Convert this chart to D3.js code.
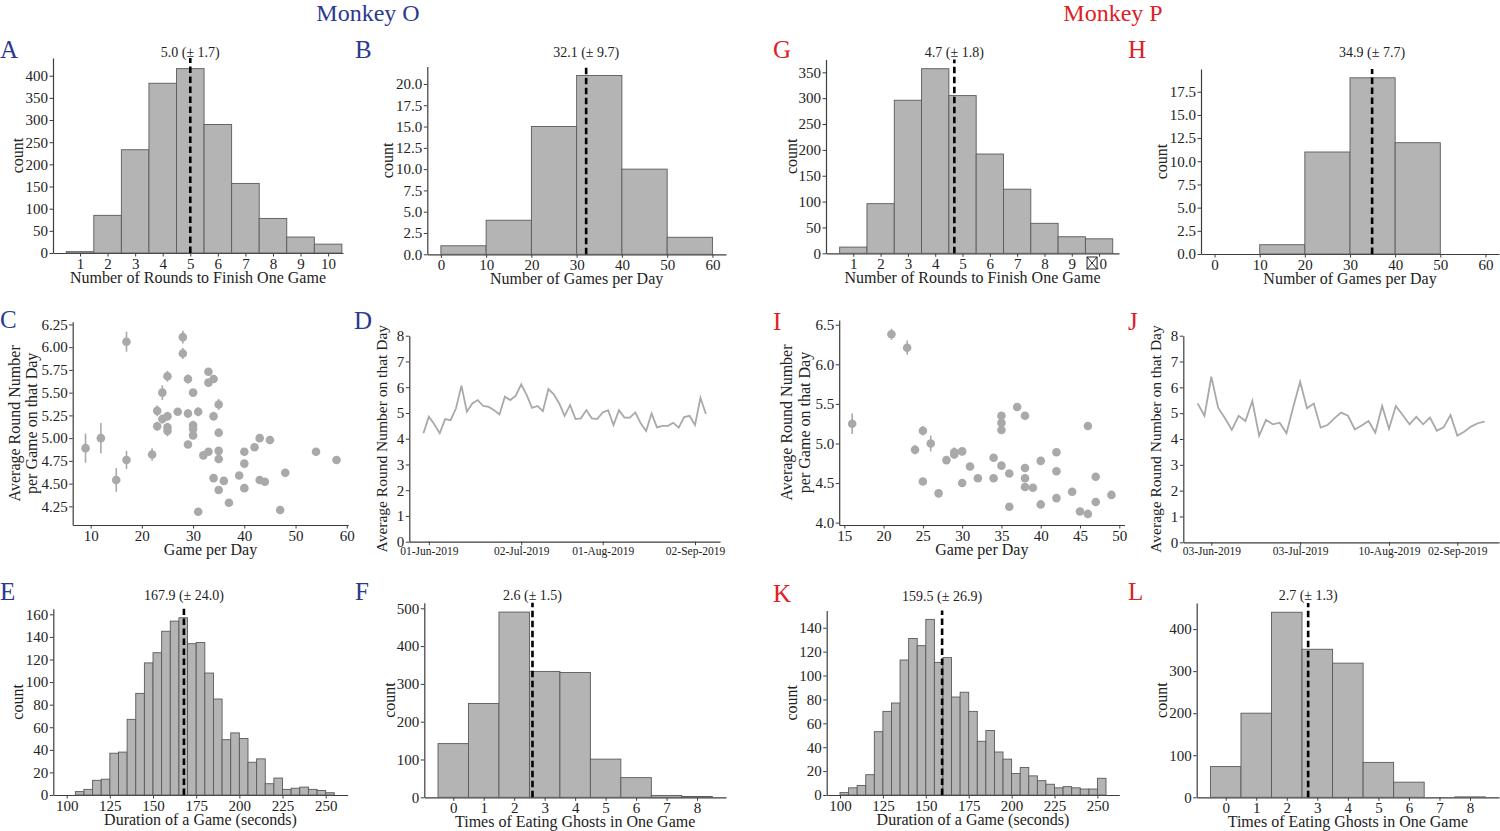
<!DOCTYPE html>
<html>
<head>
<meta charset="utf-8">
<script src="https://cdn.jsdelivr.net/npm/d3@7"></script>
<style>
  body { margin: 0; background: #fff; }
  svg { display: block; }
</style>
</head>
<body>
<div class="chart"></div>
<script>
// ---- data ----
// rounds needed to finish one game (bins centred on 1..10)
const roundCats = d3.range(1, 11);
const roundsO = [3, 85, 233, 383, 416, 290, 157, 78, 36, 20];
const roundsP = [12, 96, 296, 357, 305, 192, 124, 58, 32, 28];

// games per day (bins of 10 starting at 0)
const gameBinStarts = [0, 10, 20, 30, 40, 50];
const gamesO = [1, 4, 15, 21, 10, 2];
const gamesP = [0, 1, 11, 19, 12, 0];

// game duration in seconds (bins of 5 starting at 100)
const durBinStarts = d3.range(100, 255, 5);
const durationO = [0, 3, 5, 13, 14, 37, 38, 67, 90, 117, 126, 145, 154, 157, 134, 135,
                   108, 85, 49, 55, 50, 29, 32, 10, 15, 5, 6, 7, 5, 4, 2];
const durationP = [2, 6, 8, 17, 53, 70, 77, 113, 131, 125, 147, 111, 115, 82, 86, 70,
                   45, 54, 36, 30, 18, 23, 16, 12, 9, 6, 7, 6, 5, 5, 14];

// ghosts eaten per game (bins centred on 0..8)
const ghostCats = d3.range(0, 9);
const ghostsO = [142, 248, 490, 333, 330, 101, 52, 5, 2];
const ghostsP = [73, 200, 440, 352, 319, 83, 36, 0, 1];

// mean (± sd) annotations
const statsO = { rounds: [5.0, 1.7], games: [32.1, 9.7], duration: [167.9, 24.0], ghosts: [2.6, 1.5] };
const statsP = { rounds: [4.7, 1.8], games: [34.9, 7.7], duration: [159.5, 26.9], ghosts: [2.7, 1.3] };

// per-day scatter: games that day, average round number, error
const perDayGamesO = [9, 12, 15, 17, 17, 22, 23, 23, 24, 24, 25, 25, 25, 25, 27, 28, 28, 29, 29, 29,
                      30, 30, 30, 30, 31, 31, 32, 33, 33, 33, 34, 34, 34, 35, 35, 35, 35, 35, 36, 37,
                      39, 40, 40, 40, 42, 43, 43, 44, 45, 47, 48, 54, 58];
const perDayRoundO = [4.89, 5.00, 4.54, 6.06, 4.76, 4.82, 5.30, 5.13, 5.50, 5.21, 5.68, 5.24, 5.12, 5.08,
                      5.29, 6.11, 5.93, 5.65, 5.27, 4.93, 5.50, 5.14, 5.10, 5.03, 5.29, 4.19, 4.81, 5.73,
                      5.61, 4.85, 5.65, 5.24, 4.56, 5.37, 5.06, 4.86, 4.77, 4.43, 4.53, 4.29, 4.59, 4.85,
                      4.72, 4.45, 4.90, 5.00, 4.54, 4.52, 4.98, 4.21, 4.62, 4.85, 4.76];
const perDayErrO = [0.16, 0.165, 0.13, 0.11, 0.10, 0.07, 0.06, 0.05, 0.08, 0.05, 0.06, 0.05, 0.05, 0.06,
                    0.03, 0.07, 0.06, 0.05, 0.05, 0.03, 0.04, 0.05, 0.04, 0.04, 0.05, 0.03, 0.04, 0.04,
                    0.04, 0.03, 0.04, 0.05, 0.03, 0.06, 0.04, 0.04, 0.04, 0.03, 0.03, 0.03, 0.03, 0.03,
                    0.03, 0.03, 0.03, 0.03, 0.03, 0.03, 0.03, 0.03, 0.03, 0.03, 0.03];

const perDayGamesP = [16, 21, 23, 24, 25, 25, 26, 27, 28, 29, 29, 30, 30, 31, 32, 34, 34, 35, 35, 35,
                      35, 36, 36, 37, 38, 38, 38, 38, 39, 40, 40, 42, 42, 42, 44, 45, 46, 46, 47, 47, 49];
const perDayRoundP = [5.25, 6.38, 6.21, 4.92, 5.16, 4.52, 5.00, 4.37, 4.79, 4.89, 4.86, 4.90, 4.50, 4.71,
                      4.56, 4.82, 4.56, 5.35, 5.26, 5.17, 4.72, 4.62, 4.20, 5.46, 5.35, 4.69, 4.56, 4.45,
                      4.44, 4.78, 4.23, 4.89, 4.65, 4.31, 4.39, 4.14, 5.22, 4.11, 4.58, 4.26, 4.35];
const perDayErrP = [0.13, 0.07, 0.09, 0.06, 0.06, 0.03, 0.10, 0.03, 0.03, 0.06, 0.05, 0.05, 0.03, 0.03,
                    0.03, 0.04, 0.03, 0.04, 0.04, 0.04, 0.03, 0.03, 0.03, 0.03, 0.03, 0.03, 0.03, 0.03,
                    0.03, 0.03, 0.03, 0.03, 0.03, 0.03, 0.03, 0.03, 0.03, 0.03, 0.03, 0.03, 0.03];

// daily average round number (one value per recorded day)
const dailyO = [4.21, 4.85, 4.56, 4.21, 4.76, 4.72, 5.18, 6.06, 5.05, 5.37, 5.50, 5.27, 5.24, 5.11,
                4.94, 5.63, 5.50, 5.67, 6.11, 5.70, 5.20, 5.27, 5.07, 5.93, 5.72, 5.37, 4.89, 5.31,
                4.76, 4.79, 5.11, 4.79, 4.76, 5.02, 5.11, 4.53, 5.11, 4.82, 4.82, 5.02, 4.60, 4.30,
                4.98, 4.44, 4.50, 4.50, 4.62, 4.43, 4.84, 4.89, 4.53, 5.59, 4.96];
const dateTicksO = [1, 18, 33, 50];
const dateLabelsO = ["01-Jun-2019", "02-Jul-2019", "01-Aug-2019", "02-Sep-2019"];

const dailyP = [5.38, 4.90, 6.41, 5.21, 4.80, 4.35, 4.90, 4.70, 5.47, 4.13, 4.74, 4.57, 4.63, 4.22,
                5.25, 6.22, 5.19, 5.37, 4.44, 4.54, 4.80, 5.02, 4.90, 4.37, 4.52, 4.70, 4.25, 5.28,
                4.39, 5.28, 4.93, 4.57, 4.86, 4.57, 4.83, 4.32, 4.45, 4.93, 4.13, 4.28, 4.48, 4.61, 4.67];
const dateTicksP = [2, 15, 28, 38];
const dateLabelsP = ["03-Jun-2019", "03-Jul-2019", "10-Aug-2019", "02-Sep-2019"];

// ---- drawing ----
const width = 1500, height = 831;
const svg = d3.select(".chart")
    .append("svg")
    .attr("width", width)
    .attr("height", height)
    .attr("viewBox", [0, 0, width, height]);

const FONT = "'Liberation Serif', 'DejaVu Serif', serif";
const BLUE = "#2b3990", RED = "#dc2127";
const BAR_FILL = "#b4b4b4", BAR_EDGE = "#5a5a5a", MARK = "#a9a9a9", SPINE = "#3c3c3c";

svg.append("rect").attr("width", width).attr("height", height).attr("fill", "#fff");

function axes(p) {
    const x = d3.scaleLinear().domain(p.xdom).range([p.left, p.right]);
    const y = d3.scaleLinear().domain(p.ydom).range([p.bottom, p.top]);
    const g = svg.append("g");

    const xa = g.append("g")
        .attr("transform", `translate(0,${p.bottom})`)
        .call(d3.axisBottom(x)
            .tickValues(p.xticks)
            .tickFormat((d, i) => p.xlabels ? p.xlabels[i] : (p.xfmt ? d3.format(p.xfmt)(d) : d))
            .tickSizeOuter(0).tickSizeInner(3.5).tickPadding(1.5));
    const ya = g.append("g")
        .attr("transform", `translate(${p.left},0)`)
        .call(d3.axisLeft(y)
            .tickValues(p.yticks)
            .tickFormat(d3.format(p.yfmt || "d"))
            .tickSizeOuter(0).tickSizeInner(3.5).tickPadding(1.5));

    [xa, ya].forEach(a => {
        a.selectAll("path.domain").attr("stroke", SPINE).attr("stroke-width", 1.2);
        a.selectAll(".tick line").attr("stroke", SPINE).attr("stroke-width", 1);
        a.selectAll("text").attr("font-family", FONT).attr("font-size", 15).attr("fill", "#222");
    });
    if (p.xtickSize) xa.selectAll("text").attr("font-size", p.xtickSize);

    if (p.xlabel) {
        g.append("text")
            .attr("x", (p.left + p.right) / 2)
            .attr("y", p.bottom + 30)
            .attr("text-anchor", "middle")
            .attr("font-family", FONT).attr("font-size", 16).attr("fill", "#222")
            .text(p.xlabel);
    }

    p.ylabel.forEach((t, i) => {
        g.append("text")
            .attr("transform", `translate(${p.ylabelX[i]},${(p.top + p.bottom) / 2}) rotate(-90)`)
            .attr("text-anchor", "middle")
            .attr("font-family", FONT).attr("font-size", p.ylabelSize || 16).attr("fill", "#222")
            .text(t);
    });
    return { g, x, y, p };
}

function bars(ax, starts, binWidth, counts) {
    ax.g.append("g").selectAll("rect")
        .data(counts)
        .join("rect")
        .attr("x", (d, i) => ax.x(starts[i]))
        .attr("width", (d, i) => ax.x(starts[i] + binWidth) - ax.x(starts[i]))
        .attr("y", d => ax.y(d))
        .attr("height", d => ax.y(0) - ax.y(d))
        .attr("fill", BAR_FILL)
        .attr("stroke", BAR_EDGE)
        .attr("stroke-width", 0.9);
}

function meanLine(ax, stat, labelY) {
    const mx = ax.x(stat[0]);
    ax.g.append("line")
        .attr("x1", mx).attr("x2", mx)
        .attr("y1", ax.p.bottom).attr("y2", ax.p.top)
        .attr("stroke", "#000").attr("stroke-width", 2.6)
        .attr("stroke-dasharray", "6.5,3.5");
    ax.g.append("text")
        .attr("x", mx).attr("y", labelY)
        .attr("text-anchor", "middle")
        .attr("font-family", FONT).attr("font-size", 14).attr("fill", "#222")
        .text(`${stat[0].toFixed(1)} (± ${stat[1].toFixed(1)})`);
}

function scatter(ax, xs, ys, errs) {
    const pts = xs.map((d, i) => ({ x: d, y: ys[i], e: errs[i] }));
    ax.g.append("g").selectAll("line")
        .data(pts)
        .join("line")
        .attr("x1", d => ax.x(d.x)).attr("x2", d => ax.x(d.x))
        .attr("y1", d => ax.y(d.y - d.e)).attr("y2", d => ax.y(d.y + d.e))
        .attr("stroke", MARK).attr("stroke-width", 1.6);
    ax.g.append("g").selectAll("circle")
        .data(pts)
        .join("circle")
        .attr("cx", d => ax.x(d.x))
        .attr("cy", d => ax.y(d.y))
        .attr("r", 4.3)
        .attr("fill", MARK);
}

function dailyLine(ax, vals) {
    const line = d3.line().x((d, i) => ax.x(i)).y(d => ax.y(d));
    ax.g.append("path")
        .datum(vals)
        .attr("d", line)
        .attr("fill", "none")
        .attr("stroke", MARK)
        .attr("stroke-width", 1.8);
}

function letter(t, x, y, color) {
    svg.append("text").attr("x", x).attr("y", y)
        .attr("font-family", FONT).attr("font-size", 25).attr("fill", color)
        .text(t);
}

// titles
svg.append("text").attr("x", 368).attr("y", 21).attr("text-anchor", "middle")
    .attr("font-family", FONT).attr("font-size", 24).attr("fill", BLUE).text("Monkey O");
svg.append("text").attr("x", 1113).attr("y", 21).attr("text-anchor", "middle")
    .attr("font-family", FONT).attr("font-size", 24).attr("fill", RED).text("Monkey P");

const countTicks = (max, step) => d3.range(0, max + 1e-9, step);

// A
const axA = axes({ left: 53, right: 343, top: 58, bottom: 253, xdom: [0.02, 10.54], ydom: [0, 440],
    xticks: roundCats, yticks: countTicks(400, 50), xlabel: "Number of Rounds to Finish One Game",
    ylabel: ["count"], ylabelX: [23] });
bars(axA, roundCats.map(d => d - 0.5), 1, roundsO);
meanLine(axA, statsO.rounds, 57);

// B
const axB = axes({ left: 427.3, right: 726, top: 66.5, bottom: 254.3, xdom: [-3, 63], ydom: [0, 22.05],
    xticks: d3.range(0, 61, 10), yticks: countTicks(20, 2.5), yfmt: ".1f", xlabel: "Number of Games per Day",
    ylabel: ["count"], ylabelX: [393] });
bars(axB, gameBinStarts, 10, gamesO);
meanLine(axB, statsO.games, 57);

// G
const axG = axes({ left: 826, right: 1119, top: 59.4, bottom: 253.3, xdom: [0, 10.73], ydom: [0, 375],
    xticks: roundCats, yticks: countTicks(350, 50), xlabel: "Number of Rounds to Finish One Game",
    ylabel: ["count"], ylabelX: [797] });
bars(axG, roundCats.map(d => d - 0.5), 1, roundsP);
meanLine(axG, statsP.rounds, 57);
// missing-glyph box that sits on the "10" tick label in the original
const bx = axG.x(10) - 12;
axG.g.append("rect").attr("x", bx).attr("y", 257).attr("width", 10).attr("height", 12)
    .attr("fill", "#fff").attr("stroke", "#222").attr("stroke-width", 1);
axG.g.append("path").attr("d", `M${bx},257L${bx + 10},269M${bx + 10},257L${bx},269`)
    .attr("stroke", "#222").attr("stroke-width", 1);

// H
const axH = axes({ left: 1201, right: 1499, top: 69, bottom: 254, xdom: [-3, 63], ydom: [0, 19.95],
    xticks: d3.range(0, 61, 10), yticks: countTicks(17.5, 2.5), yfmt: ".1f", xlabel: "Number of Games per Day",
    ylabel: ["count"], ylabelX: [1167] });
bars(axH, gameBinStarts, 10, gamesP);
meanLine(axH, statsP.games, 57);

// C
const axC = axes({ left: 72.7, right: 348.3, top: 321.7, bottom: 525, xdom: [6.5, 60.3], ydom: [4.045, 6.28],
    xticks: d3.range(10, 61, 10), yticks: d3.range(4.25, 6.26, 0.25), yfmt: ".2f", xlabel: "Game per Day",
    ylabel: ["Average Round Number", "per Game on that Day"], ylabelX: [20, 37] });
scatter(axC, perDayGamesO, perDayRoundO, perDayErrO);

// D
const axD = axes({ left: 409.3, right: 720, top: 335.7, bottom: 541.7, xdom: [-2.6, 54.6], ydom: [0, 8],
    xticks: dateTicksO, xlabels: dateLabelsO, xtickSize: 11.5, yticks: d3.range(0, 9), xlabel: "",
    ylabel: ["Average Round Number on that Day"], ylabelX: [387], ylabelSize: 15.5 });
dailyLine(axD, dailyO);

// I
const axI = axes({ left: 839.2, right: 1124.4, top: 320, bottom: 525, xdom: [14.35, 50.65], ydom: [3.97, 6.56],
    xticks: d3.range(15, 51, 5), yticks: d3.range(4, 6.51, 0.5), yfmt: ".1f", xlabel: "Game per Day",
    ylabel: ["Average Round Number", "per Game on that Day"], ylabelX: [792, 810] });
scatter(axI, perDayGamesP, perDayRoundP, perDayErrP);

// J
const axJ = axes({ left: 1183.3, right: 1499, top: 335.7, bottom: 542.3, xdom: [-2.1, 44.1], ydom: [0, 8],
    xticks: dateTicksP, xlabels: dateLabelsP, xtickSize: 11.5, yticks: d3.range(0, 9), xlabel: "",
    ylabel: ["Average Round Number on that Day"], ylabelX: [1161], ylabelSize: 15.5 });
dailyLine(axJ, dailyP);

// E
const axE = axes({ left: 53.3, right: 347.7, top: 608.8, bottom: 795, xdom: [92.25, 262.75], ydom: [0, 164.9],
    xticks: d3.range(100, 251, 25), yticks: countTicks(160, 20), xlabel: "Duration of a Game (seconds)",
    ylabel: ["count"], ylabelX: [23] });
bars(axE, durBinStarts, 5, durationO);
meanLine(axE, statsO.duration, 600);

// F
const axF = axes({ left: 424.3, right: 726, top: 602.8, bottom: 797.3, xdom: [-0.95, 8.95], ydom: [0, 514.5],
    xticks: ghostCats, yticks: countTicks(500, 100), xlabel: "Times of Eating Ghosts in One Game",
    ylabel: ["count"], ylabelX: [395] });
bars(axF, ghostCats.map(d => d - 0.5), 1, ghostsO);
meanLine(axF, statsO.ghosts, 600);

// K
const axK = axes({ left: 826.7, right: 1119.3, top: 610.6, bottom: 795, xdom: [92.25, 262.75], ydom: [0, 154.35],
    xticks: d3.range(100, 251, 25), yticks: countTicks(140, 20), xlabel: "Duration of a Game (seconds)",
    ylabel: ["count"], ylabelX: [797] });
bars(axK, durBinStarts, 5, durationP);
meanLine(axK, statsP.duration, 601);

// L
const axL = axes({ left: 1196.7, right: 1499, top: 603, bottom: 797.3, xdom: [-0.95, 8.95], ydom: [0, 462],
    xticks: ghostCats, yticks: countTicks(400, 100), xlabel: "Times of Eating Ghosts in One Game",
    ylabel: ["count"], ylabelX: [1167] });
bars(axL, ghostCats.map(d => d - 0.5), 1, ghostsP);
meanLine(axL, statsP.ghosts, 600);

// panel letters
letter("A", 0, 58, BLUE);   letter("B", 355, 58, BLUE);
letter("G", 773, 58, RED);  letter("H", 1128, 58, RED);
letter("C", 0, 328, BLUE);  letter("D", 354, 329, BLUE);
letter("I", 773, 330, RED); letter("J", 1128, 330, RED);
letter("E", 0, 600, BLUE);  letter("F", 355, 600, BLUE);
letter("K", 773, 602, RED); letter("L", 1128, 600, RED);
</script>
</body>
</html>
